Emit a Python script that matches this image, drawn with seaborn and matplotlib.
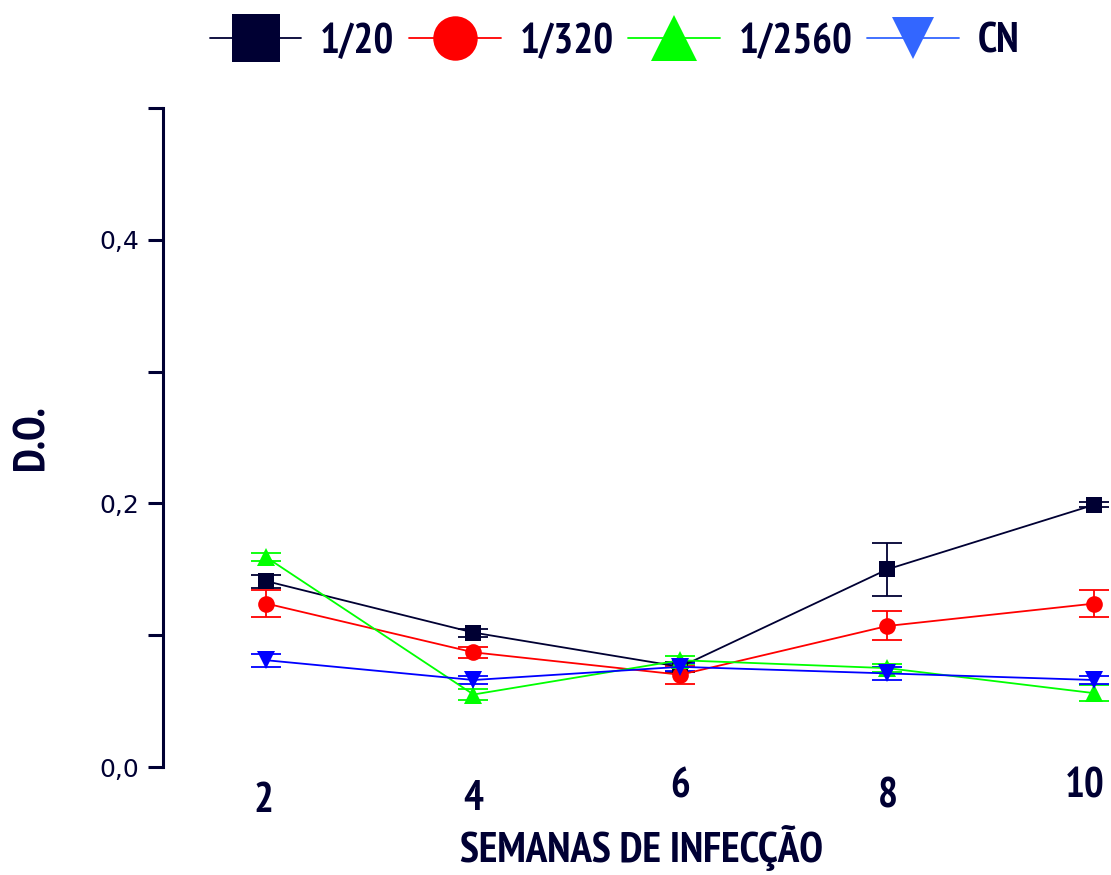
import matplotlib
matplotlib.use("Agg")
import matplotlib.pyplot as plt
from matplotlib.lines import Line2D
from matplotlib import font_manager as fm
from matplotlib.transforms import ScaledTranslation
import seaborn as sns

weeks = [2, 4, 6, 8, 10]
series_names = ["1/20", "1/320", "1/2560", "CN"]
s_1_20 = [0.141, 0.102, 0.076, 0.150, 0.199]
e_1_20 = [0.005, 0.003, 0.004, 0.020, 0.002]
s_1_320 = [0.124, 0.087, 0.070, 0.107, 0.124]
e_1_320 = [0.010, 0.004, 0.007, 0.011, 0.010]
s_1_2560 = [0.159, 0.055, 0.081, 0.075, 0.056]
e_1_2560 = [0.003, 0.004, 0.003, 0.003, 0.006]
s_cn = [0.081, 0.066, 0.076, 0.071, 0.066]
e_cn = [0.005, 0.003, 0.003, 0.005, 0.003]
y_tick_labels = ["0,0", "0,2", "0,4"]

navy = "#000033"
colors = [navy, "#ff0000", "#00ff00", "#0000ff"]
legend_colors = [navy, "#ff0000", "#00ff00", "#3366ff"]
markers = ["s", "o", "^", "v"]
msizes = [11, 12, 13, 13]
values = [s_1_20, s_1_320, s_1_2560, s_cn]
errors = [e_1_20, e_1_320, e_1_2560, e_cn]

sns.set_style("white")


def _w(f):
    try:
        return int(f.weight)
    except (TypeError, ValueError):
        return 700 if "bold" in str(f.weight).lower() else 400


# pick a condensed bold face if one is installed
cond_family, cond_stretch, scale = None, "normal", 0.80
for key in ("Narrow", "Condensed"):
    for f in fm.fontManager.ttflist:
        if key in f.name and _w(f) >= 600 and f.style == "normal":
            cond_family, scale = f.name, 1.0
            break
    if cond_family:
        break
if cond_family is None:
    for f in fm.fontManager.ttflist:
        if str(f.stretch) in ("condensed", "semi-condensed") and _w(f) >= 600:
            cond_family, cond_stretch, scale = f.name, "condensed", 1.0
            break
if cond_family is None:
    cond_family = "Liberation Sans"
narrow = [cond_family, "Liberation Sans", "DejaVu Sans"]
bold_font = dict(family=narrow, weight="bold", stretch=cond_stretch)

fig = plt.figure(figsize=(11.11, 8.75), dpi=100)
ax = fig.add_axes([163 / 1111, 108 / 875, 1 - 163 / 1111, 659 / 875])

for name, vals, errs, c, m, ms in zip(series_names, values, errors, colors, markers, msizes):
    ax.errorbar(weeks, vals, yerr=errs, fmt="none", ecolor=c, elinewidth=1.3,
                capsize=11, capthick=1.3, zorder=2)
    sns.lineplot(x=weeks, y=vals, ax=ax, color=c, marker=m, markersize=ms,
                 markeredgewidth=0, linewidth=1.3, legend=False, zorder=3)

ax.set_xlim(1.0, 10.16)
ax.set_ylim(0, 0.5)
for s in ["top", "right", "bottom"]:
    ax.spines[s].set_visible(False)
ax.spines["left"].set_color(navy)
ax.spines["left"].set_linewidth(2.2)

ax.set_yticks([0.0, 0.2, 0.4])
ax.set_yticklabels(y_tick_labels)
ax.set_yticks([0.1, 0.3, 0.5], minor=True)
ax.tick_params(axis="y", which="both", direction="out", length=11, width=2.2,
               color=navy, labelcolor=navy, labelsize=18, pad=6, left=True)
for lab in ax.get_yticklabels():
    lab.set_family("DejaVu Sans")

ax.set_xticks(weeks)
ax.set_xticklabels([str(w) for w in weeks])
ax.tick_params(axis="x", length=0, labelsize=30 * scale, labelcolor=navy, pad=0)
# individual shifts of the x labels (pixels: dx, dy)
x_shifts = [(-3, -15), (0, -13), (0, 0), (0, -10), (-10, 0)]
for lab, (dx, dy) in zip(ax.get_xticklabels(), x_shifts):
    lab.set_family(narrow)
    lab.set_fontweight("bold")
    lab.set_fontstretch(cond_stretch)
    lab.set_transform(lab.get_transform() + ScaledTranslation(dx / 100, dy / 100, fig.dpi_scale_trans))

ax.set_xlabel("SEMANAS DE INFECÇÃO", fontsize=31 * scale, color=navy, **bold_font)
ax.xaxis.set_label_coords(0.505, -0.088)
ax.set_ylabel("D.O.", fontsize=32 * scale, color=navy, **bold_font)
ax.yaxis.set_label_coords(-0.117, 0.50)

handles = [Line2D([0], [0], color=lc, marker=m, markersize=ms, linewidth=1.3,
                  markeredgewidth=0)
           for lc, m, ms in zip(legend_colors, markers, [34, 32, 33, 30])]
leg = fig.legend(handles, series_names, loc="upper center", bbox_to_anchor=(0.553, 1.017),
                 ncol=4, frameon=False, handlelength=2.2 / scale, handletextpad=0.45,
                 columnspacing=0.35,
                 prop=fm.FontProperties(family=narrow, weight="bold", stretch=cond_stretch,
                                        size=30 * scale))
for t in leg.get_texts():
    t.set_color(navy)

fig.savefig("out.png", dpi=100, facecolor="white")
